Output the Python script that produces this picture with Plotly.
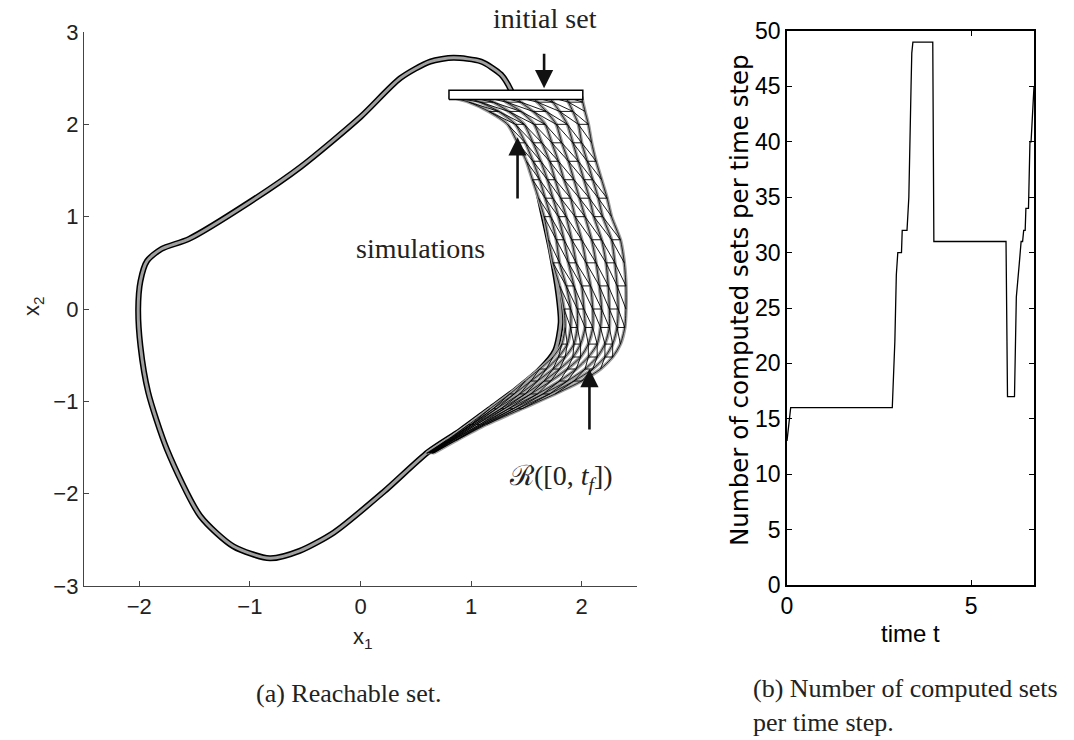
import plotly.graph_objects as go

# ---------------- left panel: Van der Pol reachable set ----
# centre line of the thin limit-cycle band (clockwise)
cycle_x1 = [1.36, 1.45, 1.53, 1.62, 1.72, 1.79, 1.81, 1.76, 1.62, 1.40, 1.15, 0.90, 0.61, 0.21,
            -0.24, -0.55, -0.82, -1.15, -1.45, -1.75, -1.92, -1.99, -2.01, -1.99, -1.93, -1.80,
            -1.55, -1.00, -0.54, 0.00, 0.36, 0.63, 0.84, 1.09, 1.27, 1.36]
cycle_x2 = [2.37, 2.05, 1.70, 1.20, 0.65, 0.15, -0.15, -0.45, -0.66, -0.88, -1.10, -1.32, -1.55, -1.98,
            -2.42, -2.62, -2.70, -2.57, -2.24, -1.52, -0.90, -0.40, 0.00, 0.30, 0.52, 0.65,
            0.76, 1.16, 1.54, 2.08, 2.50, 2.68, 2.72, 2.68, 2.54, 2.37]

# x2 levels at which the simulated trajectories were read
sim_levels_x2 = [2.30, 2.24, 2.14, 2.00, 1.80, 1.60, 1.40, 1.20, 1.00, 0.75, 0.50, 0.25, 0.00,
                 -0.20, -0.38, -0.52, -0.65, -0.78, -0.92, -1.08, -1.25, -1.42, -1.56]
# x1 of each simulation at those levels (left edge ... right edge of the reachable set)
sim_1 = [0.80, 0.98, 1.16, 1.33, 1.42, 1.50, 1.555, 1.61, 1.66, 1.70, 1.74, 1.80, 1.84,
         1.85, 1.82, 1.74, 1.62, 1.49, 1.35, 1.17, 0.98, 0.78, 0.60]
sim_2 = [0.95, 1.08, 1.25, 1.40, 1.49, 1.56, 1.62, 1.67, 1.72, 1.77, 1.80, 1.86, 1.90,
         1.90, 1.87, 1.79, 1.68, 1.54, 1.39, 1.20, 1.00, 0.79, 0.61]
sim_3 = [1.10, 1.20, 1.34, 1.48, 1.56, 1.63, 1.69, 1.74, 1.79, 1.84, 1.88, 1.93, 1.96,
         1.96, 1.93, 1.85, 1.74, 1.60, 1.44, 1.23, 1.01, 0.80, 0.62]
sim_4 = [1.25, 1.32, 1.45, 1.57, 1.64, 1.71, 1.76, 1.81, 1.86, 1.91, 1.95, 2.00, 2.02,
         2.03, 1.99, 1.92, 1.80, 1.66, 1.49, 1.27, 1.03, 0.81, 0.62]
sim_5 = [1.40, 1.45, 1.56, 1.67, 1.73, 1.79, 1.84, 1.90, 1.94, 2.00, 2.04, 2.08, 2.10,
         2.10, 2.06, 1.99, 1.87, 1.72, 1.54, 1.30, 1.05, 0.82, 0.63]
sim_6 = [1.55, 1.60, 1.68, 1.77, 1.82, 1.88, 1.93, 1.98, 2.03, 2.09, 2.13, 2.16, 2.18,
         2.17, 2.14, 2.06, 1.95, 1.80, 1.60, 1.34, 1.08, 0.83, 0.64]
sim_7 = [1.70, 1.74, 1.80, 1.87, 1.92, 1.97, 2.02, 2.07, 2.11, 2.18, 2.22, 2.24, 2.25,
         2.25, 2.21, 2.14, 2.03, 1.87, 1.65, 1.38, 1.10, 0.84, 0.65]
sim_8 = [1.85, 1.88, 1.92, 1.97, 2.00, 2.05, 2.10, 2.15, 2.19, 2.27, 2.30, 2.32, 2.33,
         2.32, 2.28, 2.21, 2.10, 1.93, 1.71, 1.42, 1.12, 0.86, 0.65]
sim_9 = [2.00, 2.01, 2.03, 2.06, 2.09, 2.13, 2.18, 2.23, 2.27, 2.35, 2.385, 2.40, 2.40,
         2.39, 2.35, 2.28, 2.17, 2.00, 1.76, 1.46, 1.14, 0.87, 0.66]
simulations = [sim_1, sim_2, sim_3, sim_4, sim_5, sim_6, sim_7, sim_8, sim_9]

# initial set (box)
init_x1 = [0.80, 2.01]
init_x2 = [2.27, 2.37]

# ---------------- right panel: number of computed sets per time step ----------------
time_t = [0.00, 0.10, 2.86, 2.93, 2.97, 3.01, 3.11, 3.13, 3.26, 3.31, 3.37, 3.39, 3.42, 3.96,
          3.99, 5.95, 5.99, 6.18, 6.23, 6.27, 6.29, 6.31, 6.36, 6.40, 6.43, 6.47, 6.49, 6.56,
          6.60, 6.63, 6.71]
n_sets = [13, 16, 16, 22, 28, 30, 30, 32, 32, 35, 45, 48, 49, 49,
          31, 31, 17, 17, 26, 28, 29, 29, 31, 31, 32, 32, 34, 34,
          40, 40, 45]

W, H = 1074, 740
SANS = "Liberation Sans, Arial, sans-serif"
WIDE_SANS = "DejaVu Sans, Liberation Sans, sans-serif"
SERIF = "Liberation Serif, Times New Roman, serif"
GRAY = "#a0a0a0"

fig = go.Figure()

# limit-cycle band: black outline + gray core
fig.add_trace(go.Scatter(x=cycle_x1, y=cycle_x2, mode="lines", xaxis="x", yaxis="y",
                         line=dict(color="black", width=6, shape="spline", smoothing=0.7),
                         hoverinfo="skip"))
fig.add_trace(go.Scatter(x=cycle_x1, y=cycle_x2, mode="lines", xaxis="x", yaxis="y",
                         line=dict(color=GRAY, width=3, shape="spline", smoothing=0.7),
                         hoverinfo="skip"))

# reachable region (white) bounded by outermost simulations
left, right = simulations[0], simulations[-1]
fig.add_trace(go.Scatter(x=left + right[::-1], y=sim_levels_x2 + sim_levels_x2[::-1],
                         mode="lines", fill="toself", fillcolor="white",
                         line=dict(color="black", width=1.2, shape="spline", smoothing=0.6),
                         xaxis="x", yaxis="y", hoverinfo="skip"))

# gray simulations
for s in simulations:
    fig.add_trace(go.Scatter(x=s, y=sim_levels_x2, mode="lines", xaxis="x", yaxis="y",
                             line=dict(color=GRAY, width=3.6, shape="spline", smoothing=0.6),
                             hoverinfo="skip"))
# black mesh of computed sets (brick-like cells)
mesh_x, mesh_y = [], []
n_lv = len(sim_levels_x2)
for j in range(n_lv):
    for k in range(len(simulations) - 1):
        if (j + k) % 2 == 0:
            mesh_x += [simulations[k][j], simulations[k + 1][j], None]
            mesh_y += [sim_levels_x2[j], sim_levels_x2[j], None]
        if j + 1 < n_lv:
            mesh_x += [simulations[k][j], simulations[k + 1][j + 1], None]
            mesh_y += [sim_levels_x2[j], sim_levels_x2[j + 1], None]
fig.add_trace(go.Scatter(x=mesh_x, y=mesh_y, mode="lines", xaxis="x", yaxis="y",
                         line=dict(color="black", width=0.9), hoverinfo="skip"))
for s in simulations:
    fig.add_trace(go.Scatter(x=s, y=sim_levels_x2, mode="lines", xaxis="x", yaxis="y",
                             line=dict(color="black", width=0.8, shape="spline", smoothing=0.6),
                             hoverinfo="skip"))

# initial set box
fig.add_trace(go.Scatter(x=[init_x1[0], init_x1[1], init_x1[1], init_x1[0], init_x1[0]],
                         y=[init_x2[0], init_x2[0], init_x2[1], init_x2[1], init_x2[0]],
                         mode="lines", fill="toself", fillcolor="white",
                         line=dict(color="black", width=1.5), xaxis="x", yaxis="y",
                         hoverinfo="skip"))

# right panel line
fig.add_trace(go.Scatter(x=time_t, y=n_sets, mode="lines", xaxis="x2", yaxis="y2",
                         line=dict(color="black", width=1.3), hoverinfo="skip"))


def px2x(px):
    return px / W


def py2y(py):
    return 1 - py / H


ax_common = dict(showgrid=False, zeroline=False, ticks="inside", ticklen=5, showline=True,
                 automargin=False)

fig.update_layout(
    template="none",
    width=W, height=H, margin=dict(l=0, r=0, t=0, b=0, pad=0), autosize=False,
    paper_bgcolor="white", plot_bgcolor="white", showlegend=False,
    xaxis=dict(domain=[px2x(84), px2x(637)], range=[-2.5, 2.5], tickvals=[-2, -1, 0, 1, 2],
               linecolor="#444", tickcolor="#444", linewidth=1.3, anchor="y",
               tickfont=dict(family=SANS, size=22, color="#222"), **ax_common),
    yaxis=dict(domain=[py2y(586), py2y(32)], range=[-3, 3], tickvals=[-3, -2, -1, 0, 1, 2, 3],
               linecolor="#444", tickcolor="#444", linewidth=1.3, anchor="x",
               tickfont=dict(family=SANS, size=22, color="#222"), **ax_common),
    xaxis2=dict(domain=[px2x(787), px2x(1034)], range=[0, 6.71], tickvals=[0, 5],
                linecolor="black", tickcolor="black", linewidth=1.5, mirror="ticks", anchor="y2",
                tickfont=dict(family=SANS, size=23, color="black"), **ax_common),
    yaxis2=dict(domain=[py2y(585), py2y(31)], range=[0, 50], dtick=5,
                linecolor="black", tickcolor="black", linewidth=1.5, mirror="ticks", anchor="x2",
                tickfont=dict(family=SANS, size=23, color="black"), **ax_common),
)


def label(text, px, py, size, family, color="#222", angle=0, xanchor="center", yanchor="middle"):
    return dict(text=text, x=px2x(px), y=py2y(py), xref="paper", yref="paper",
                xanchor=xanchor, yanchor=yanchor, showarrow=False, textangle=angle,
                align="left", font=dict(family=family, size=size, color=color))


ann = [
    # axis titles
    label("x<sub>1</sub>", 363, 638, 22, SANS),
    label("x<sub>2</sub>", 33, 306, 22, SANS, angle=-90),
    label("time t", 910, 633, 24, SANS, color="black"),
    label("Number of computed sets per time step", 739, 300, 24.5, WIDE_SANS, color="black",
          angle=-90),
    # captions
    label("(a) Reachable set.", 349, 693, 26, SERIF),
    label("(b) Number of computed sets<br>per time step.", 751, 739, 26, SERIF,
          xanchor="left", yanchor="bottom"),
    # in-plot text
    label("initial set", 545, 19, 28, SERIF),
]
ann.append(dict(text="simulations", x=0.54, y=0.66, xref="x", yref="y", showarrow=False,
                xanchor="center", yanchor="middle",
                font=dict(family=SERIF, size=28, color="#222")))
ann.append(dict(text="ℛ([0, <i>t</i><sub><i>f</i></sub>])", x=1.81, y=-1.82, xref="x", yref="y",
                xanchor="center", yanchor="middle", showarrow=False,
                font=dict(family=SERIF, size=28, color="#222")))
# arrows
for (xh, yh, yt) in [(1.66, 2.39, 2.78), (1.42, 1.86, 1.18), (2.07, -0.65, -1.32)]:
    ann.append(dict(text="", x=xh, y=yh, ax=xh, ay=yt, xref="x", yref="y", axref="x", ayref="y",
                    showarrow=True, arrowhead=2, arrowsize=1.4, arrowwidth=2.6,
                    arrowcolor="#111", standoff=0))
fig.update_layout(annotations=ann)

fig.write_html("out.html")
